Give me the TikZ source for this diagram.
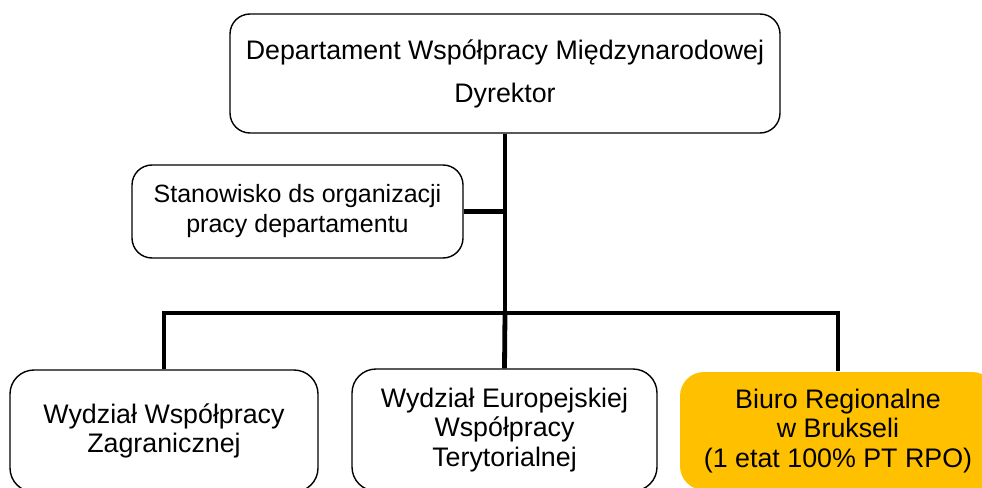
\documentclass[tikz,border=0pt]{standalone}
\usepackage{fontspec}
\setmainfont{Liberation Sans}
\definecolor{biurofill}{HTML}{FFC000}

\begin{document}
\begin{tikzpicture}[x=1pt,y=-1pt,
    box/.style={draw=black, line width=1.4pt, rounded corners=20pt, align=center, inner sep=0pt},
    link/.style={line width=4.8pt, line join=miter}]
    \useasboundingbox (0,0) rectangle (982,487);
    \clip (0,0) rectangle (982,487);

    % dyrektor and stanowisko
    \node[box, minimum width=550pt, minimum height=119pt, font=\fontsize{26.8}{46}\selectfont] (dyr) at (505,73.5) {\raisebox{-3pt}{Departament Współpracy Międzynarodowej}\\Dyrektor};
    \node[box, minimum width=331pt, minimum height=93pt, font=\fontsize{25}{30}\selectfont] (stan) at (297.5,211.5) {Stanowisko ds organizacji\\pracy departamentu};

    % wydzialy
    \node[box, rounded corners=24pt, minimum width=308pt, minimum height=122pt, font=\fontsize{26.8}{29.5}\selectfont] (wzag) at (164,431) {Wydział Współpracy\\Zagranicznej};
    \node[box, rounded corners=24pt, minimum width=305pt, minimum height=122pt, font=\fontsize{26.8}{29.5}\selectfont] (weur) at (504.5,430) {Wydział Europejskiej\\Współpracy\\Terytorialnej};
    \node[box, draw=none, fill=biurofill, rounded corners=24pt, minimum width=316pt, minimum height=118pt, font=\fontsize{26.8}{29.5}\selectfont] (biuro) at (838,431) {Biuro Regionalne\\w Brukseli\\(1 etat 100\% PT RPO)};

    \coordinate (bus) at (505,313);

    \draw[link] (dyr.south) -- (bus);
    \draw[link] (stan.east) -- (stan.east -| dyr.south);
    \draw[link] (wzag.north) |- (bus) -| (biuro.north);
    \draw[link] (bus) -- (weur.north);
\end{tikzpicture}
\end{document}
